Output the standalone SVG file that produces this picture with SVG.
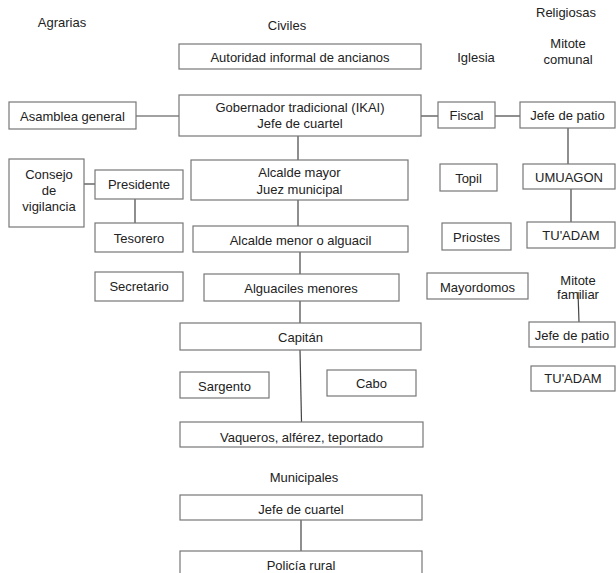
<svg xmlns="http://www.w3.org/2000/svg" width="616" height="573" viewBox="0 0 616 573">
<style>
rect{fill:#fff;stroke:#777;stroke-width:1.2}
text{font-family:"Liberation Sans",Arial,sans-serif;font-size:13px;fill:#222;text-anchor:middle}
.c line,.c polyline{stroke:#444;stroke-width:1.2;fill:none}
</style>
<rect x="0" y="0" width="616" height="573" style="fill:#fff;stroke:none"/>
<g id="headers">
<text x="62" y="27">Agrarias</text>
<text x="287" y="30">Civiles</text>
<text x="566" y="17">Religiosas</text>
<text x="476" y="62">Iglesia</text>
<text x="568" y="48">Mitote</text>
<text x="568" y="64">comunal</text>
<text x="304" y="482">Municipales</text>
<text x="578" y="285">Mitote</text>
<text x="578" y="299">familiar</text>
</g>
<g class="c" id="connectors">
<line x1="136" y1="116" x2="179" y2="116"/>
<line x1="421" y1="116" x2="438" y2="116"/>
<line x1="495" y1="116" x2="520" y2="116"/>
<line x1="298" y1="136" x2="298" y2="160"/>
<line x1="84" y1="184" x2="95" y2="184"/>
<line x1="135" y1="199" x2="135" y2="223"/>
<line x1="298" y1="200" x2="298" y2="226"/>
<line x1="300" y1="252" x2="300" y2="274"/>
<line x1="300" y1="301" x2="300" y2="323"/>
<line x1="300" y1="350" x2="301.5" y2="422"/>
<line x1="301" y1="520" x2="301" y2="551"/>
<line x1="568" y1="128" x2="568" y2="164"/>
<line x1="571" y1="189" x2="571" y2="222"/>
<line x1="578" y1="292" x2="579" y2="322"/>
</g>
<g id="autoridad"><rect x="179" y="44" width="242" height="25"/><text x="300" y="61.5">Autoridad informal de ancianos</text></g>
<g id="gobernador"><rect x="179" y="95" width="242" height="41"/><text x="300" y="111.5">Gobernador tradicional (IKAI)</text><text x="300" y="127.5">Jefe de cuartel</text></g>
<g id="asamblea"><rect x="9" y="102" width="127" height="27"/><text x="72.5" y="120.5">Asamblea general</text></g>
<g id="fiscal"><rect x="438" y="102" width="57" height="26"/><text x="466.5" y="120">Fiscal</text></g>
<g id="jefepatio1"><rect x="520" y="102" width="95" height="26"/><text x="567.5" y="120">Jefe de patio</text></g>
<g id="consejo"><rect x="9" y="159" width="75" height="68"/><text x="49" y="178.5">Consejo</text><text x="49" y="194.5">de</text><text x="49" y="210.5">vigilancia</text></g>
<g id="presidente"><rect x="95" y="170" width="88" height="29"/><text x="139" y="188.5">Presidente</text></g>
<g id="tesorero"><rect x="95" y="223" width="88" height="29"/><text x="139" y="242.5">Tesorero</text></g>
<g id="secretario"><rect x="95" y="272" width="88" height="29"/><text x="139" y="290.5">Secretario</text></g>
<g id="alcaldemayor"><rect x="191" y="160" width="217" height="40"/><text x="299.5" y="176.5">Alcalde mayor</text><text x="299.5" y="193.5">Juez municipal</text></g>
<g id="alcaldemenor"><rect x="193" y="226" width="215" height="26"/><text x="300.5" y="244.5">Alcalde menor o alguacil</text></g>
<g id="alguaciles"><rect x="204" y="274" width="195" height="27"/><text x="301" y="292.5">Alguaciles menores</text></g>
<g id="capitan"><rect x="180" y="323" width="241" height="27"/><text x="300.5" y="341.5">Capitán</text></g>
<g id="sargento"><rect x="180" y="372" width="89" height="26"/><text x="224.5" y="390.5">Sargento</text></g>
<g id="cabo"><rect x="327" y="370" width="89" height="26"/><text x="371.5" y="387.5">Cabo</text></g>
<g id="vaqueros"><rect x="180" y="422" width="243" height="25"/><text x="301.5" y="442">Vaqueros, alférez, teportado</text></g>
<g id="jefecuartel"><rect x="180" y="495" width="242" height="25"/><text x="301" y="513.5">Jefe de cuartel</text></g>
<g id="policia"><rect x="180" y="551" width="242" height="30"/><text x="301" y="569.5">Policía rural</text></g>
<g id="topil"><rect x="440" y="164" width="57" height="27"/><text x="468.5" y="182.5">Topil</text></g>
<g id="umuagon"><rect x="523" y="164" width="92" height="25"/><text x="569" y="181.5">UMUAGON</text></g>
<g id="priostes"><rect x="442" y="223" width="69" height="27"/><text x="476.5" y="241.5">Priostes</text></g>
<g id="tuadam1"><rect x="527" y="222" width="88" height="26"/><text x="571" y="239.5">TU'ADAM</text></g>
<g id="mayordomos"><rect x="427" y="273" width="101" height="26"/><text x="477.5" y="291.5">Mayordomos</text></g>
<g id="jefepatio2"><rect x="529" y="322" width="86" height="25"/><text x="572" y="339.5">Jefe de patio</text></g>
<g id="tuadam2"><rect x="531" y="366" width="84" height="25"/><text x="573" y="382.5">TU'ADAM</text></g>
</svg>
